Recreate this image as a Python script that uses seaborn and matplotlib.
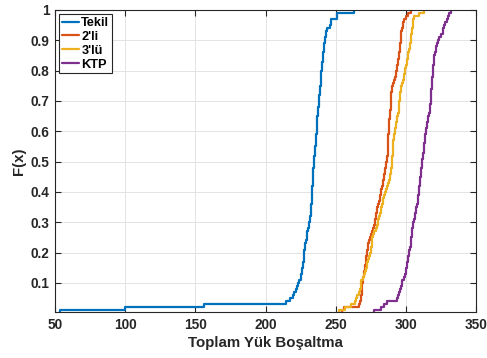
import numpy as np
import pandas as pd
import matplotlib
matplotlib.use("Agg")
import matplotlib.pyplot as plt
import seaborn as sns
from matplotlib.ticker import FuncFormatter

series_names = ["Tekil", "2'li", "3'lü", "KTP"]
colors = ["#0072BD", "#D95319", "#EDB120", "#7E2F8E"]

tekil = [53.6, 100.0, 156.4, 214.3, 217.5, 219.5, 220.5, 221.5, 222.3, 222.9,
         224.0, 225.0, 225.3, 225.8, 226.2, 226.6, 226.9, 227.1, 227.3, 227.5,
         227.7, 227.9, 228.1, 228.7, 229.3, 229.6, 229.9, 230.2, 230.8, 231.2,
         231.6, 232.0, 232.3, 232.6, 232.7, 232.75, 232.8, 232.85, 232.9, 232.95,
         233.1, 233.3, 233.5, 233.6, 233.8, 233.9, 234.1, 234.2, 234.4, 234.5,
         234.7, 234.9, 235.1, 235.3, 235.5, 235.7, 235.9, 236.0, 236.2, 236.4,
         236.5, 236.6, 236.8, 236.9, 237.0, 237.2, 237.4, 237.6, 237.8, 238.0,
         238.2, 238.4, 238.6, 238.8, 239.0, 239.2, 239.4, 239.6, 239.7, 239.8,
         240.0, 240.2, 240.5, 240.7, 241.0, 241.2, 241.5, 241.7, 242.0, 242.2,
         242.4, 243.0, 243.3, 243.6, 245.9, 246.4, 246.9, 251.2, 251.2, 263.0]

ikili = [254.8, 256.0, 266.5, 267.3, 267.8, 268.2, 268.5, 268.8, 269.0, 269.1,
         269.4, 269.7, 269.9, 270.2, 270.6, 271.0, 271.4, 271.7, 271.9, 272.1,
         272.5, 272.9, 273.3, 273.8, 274.5, 275.3, 276.2, 276.8, 277.4, 277.9,
         278.3, 278.6, 278.8, 279.3, 279.8, 280.4, 280.9, 281.4, 281.8, 282.2,
         282.6, 283.0, 283.4, 283.8, 284.2, 284.6, 285.0, 285.4, 285.7, 286.1,
         286.5, 286.9, 287.0, 287.1, 287.2, 287.3, 287.4, 287.5, 287.6, 287.7,
         287.8, 287.9, 288.0, 288.2, 288.4, 288.6, 288.8, 289.1, 289.3, 289.4,
         289.5, 289.6, 289.7, 289.8, 290.0, 290.5, 291.3, 292.1, 292.9, 293.3,
         293.7, 294.0, 294.3, 294.6, 294.9, 295.2, 295.5, 295.7, 295.9, 296.2,
         296.5, 296.7, 296.9, 297.4, 297.9, 298.3, 298.8, 300.0, 301.5, 303.5]

uclu = [252.4, 256.5, 261.0, 263.5, 264.3, 265.2, 266.6, 267.3, 267.8, 268.2,
        268.4, 269.3, 270.2, 270.8, 271.4, 272.0, 272.6, 273.2, 273.8, 274.4,
        275.0, 275.3, 275.6, 275.9, 276.2, 276.9, 277.6, 278.6, 279.3, 280.0,
        280.5, 280.9, 281.3, 282.1, 282.6, 283.1, 283.6, 284.0, 284.5, 285.3,
        286.1, 286.9, 287.4, 287.9, 288.4, 288.9, 289.3, 289.5, 289.8, 290.0,
        290.2, 290.3, 290.5, 290.6, 290.8, 291.0, 291.2, 291.5, 291.9, 292.2,
        292.5, 292.7, 292.9, 293.4, 293.9, 294.3, 294.8, 295.0, 295.2, 295.4,
        295.6, 295.8, 296.0, 296.2, 296.4, 297.2, 298.0, 298.5, 298.8, 299.2,
        299.6, 300.1, 300.5, 300.9, 301.2, 301.8, 302.3, 302.8, 303.2, 303.6,
        303.8, 304.0, 304.2, 304.5, 304.8, 305.0, 305.2, 305.5, 309.5, 313.0]

ktp = [277.4, 282.1, 284.5, 286.9, 293.6, 294.5, 295.3, 296.0, 296.8, 297.2,
       297.6, 298.4, 299.2, 300.0, 300.3, 300.6, 300.9, 301.2, 301.6, 302.1,
       302.6, 303.1, 303.6, 303.8, 304.0, 304.2, 304.4, 304.6, 304.8, 305.4,
       306.0, 306.4, 306.8, 307.1, 307.5, 307.9, 308.4, 308.6, 308.8, 309.1,
       309.3, 309.5, 309.8, 310.0, 310.2, 310.5, 310.7, 311.0, 311.3, 311.5,
       311.8, 312.0, 312.3, 312.6, 312.9, 313.1, 313.4, 313.7, 314.0, 314.3,
       314.6, 314.9, 315.2, 315.5, 316.0, 316.5, 317.0, 317.4, 317.5, 317.6,
       317.7, 317.8, 317.9, 318.1, 318.3, 318.5, 318.7, 318.9, 319.1, 319.3,
       319.5, 319.7, 319.9, 320.0, 320.2, 320.7, 321.2, 321.6, 322.1, 322.6,
       323.8, 325.0, 326.2, 326.8, 327.4, 328.2, 329.0, 329.8, 331.0, 332.5]

x_ticks = [50, 100, 150, 200, 250, 300, 350]
y_ticks = [0.1, 0.2, 0.3, 0.4, 0.5, 0.6, 0.7, 0.8, 0.9, 1.0]

sns.set_theme(style="whitegrid")
plt.rcParams['font.family'] = ['Liberation Sans', 'DejaVu Sans']
plt.rcParams['font.weight'] = 'bold'

fig = plt.figure(figsize=(4.87, 3.58), dpi=100)
ax = fig.add_axes([55/487, 1 - 312/358, (476 - 55)/487, (312 - 10)/358])

all_data = [tekil, ikili, uclu, ktp]
for name, vals, c in zip(series_names, all_data, colors):
    df = pd.DataFrame({"x": vals})
    sns.ecdfplot(data=df, x="x", ax=ax, color=c, linewidth=1.6, label=name)

ax.set_xlim(50, 350)
ax.set_ylim(0.004, 1)
ax.set_xticks(x_ticks)
ax.set_yticks(y_ticks)
ax.yaxis.set_major_formatter(FuncFormatter(lambda v, p: "1" if abs(v - 1) < 1e-9 else f"{v:.1f}"))

ax.set_facecolor("white")
ax.grid(True, color="#e3e3e3", linewidth=0.7)
ax.set_axisbelow(True)
for s in ax.spines.values():
    s.set_visible(True)
    s.set_color("#262626")
    s.set_linewidth(0.8)

ax.tick_params(axis="both", which="major", direction="in", length=4, width=0.8,
               color="#262626", labelsize=9.8, labelcolor="#262626",
               top=True, right=True, bottom=True, left=True, pad=4)
for lbl in ax.get_xticklabels() + ax.get_yticklabels():
    lbl.set_fontweight("bold")

ax.set_xlabel("Toplam Yük Boşaltma", fontsize=10.8, fontweight="bold", color="#262626", labelpad=3)
ax.set_ylabel("F(x)", fontsize=10.8, fontweight="bold", color="#262626", labelpad=3)

leg = ax.legend(loc="upper left", fontsize=9.2, frameon=True, fancybox=False,
                handlelength=1.35, handletextpad=0.15, borderpad=0.2,
                labelspacing=0.15, borderaxespad=0.35)
leg.get_frame().set_edgecolor("#262626")
leg.get_frame().set_linewidth(0.8)
leg.get_frame().set_alpha(1)
for t in leg.get_texts():
    t.set_fontweight("bold")
    t.set_color("black")

fig.savefig("out.png", dpi=100)
